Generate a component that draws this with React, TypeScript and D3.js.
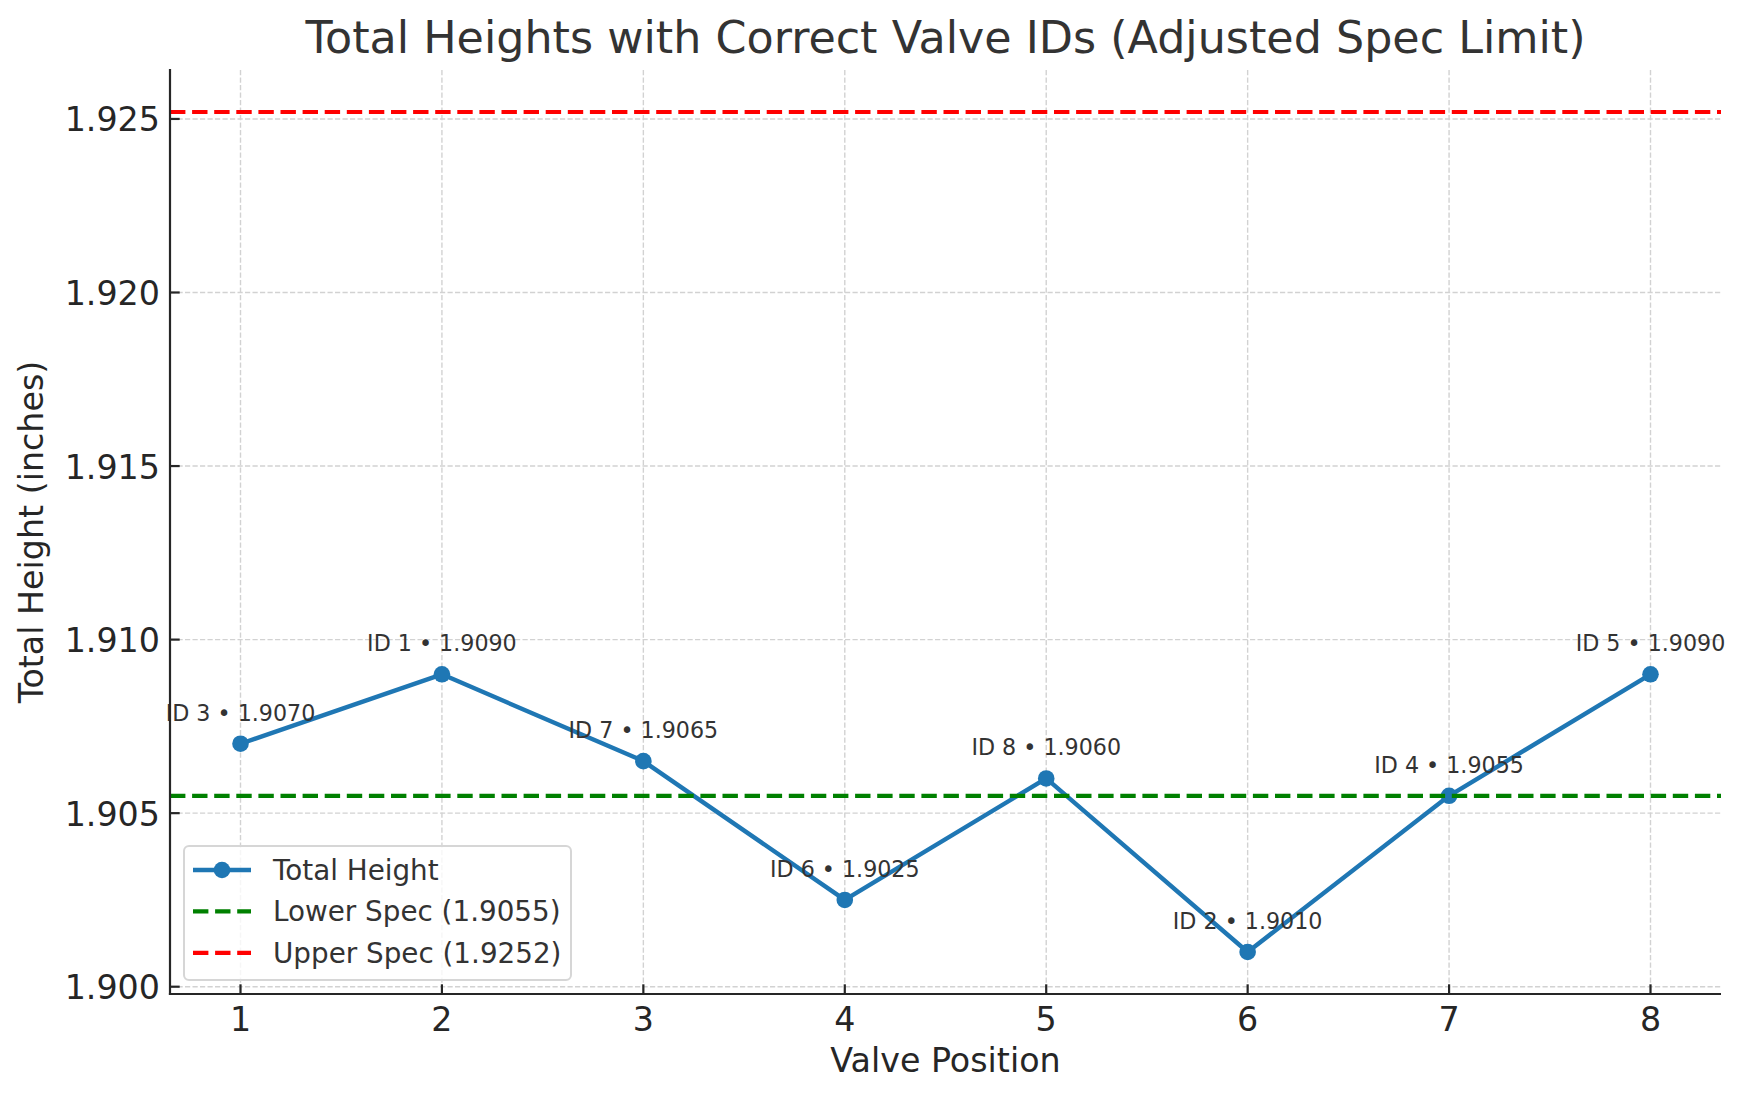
import * as d3 from 'd3';

// valve readings, in position order
const positions = [1, 2, 3, 4, 5, 6, 7, 8];
const valveIds = [3, 1, 7, 6, 8, 2, 4, 5];
const heights = [1.907, 1.909, 1.9065, 1.9025, 1.906, 1.901, 1.9055, 1.909];

const lowerSpec = 1.9055;
const upperSpec = 1.9252;

const yTicks = [1.9, 1.905, 1.91, 1.915, 1.92, 1.925];

const W = 1744;
const H = 1101;
const LEFT = 170;
const RIGHT = 1721;
const TOP = 70;
const BOTTOM = 994;

const FONT = '"DejaVu Sans", sans-serif';
const BLUE = '#1f77b4';

// 5% padding on each side, like matplotlib autoscale
function padded(lo: number, hi: number): [number, number] {
  const pad = (hi - lo) * 0.05;
  return [lo - pad, hi + pad];
}

export default function App() {
  const xDomain = padded(d3.min(positions)!, d3.max(positions)!);
  const yLo = Math.min(d3.min(heights)!, lowerSpec);
  const yHi = Math.max(d3.max(heights)!, upperSpec);
  const yDomain = padded(yLo, yHi);

  const x = d3.scaleLinear().domain(xDomain).range([LEFT, RIGHT]);
  const y = d3.scaleLinear().domain(yDomain).range([BOTTOM, TOP]);

  const line = d3
    .line<number>()
    .x((_, i) => x(positions[i]))
    .y((d) => y(d));

  const legendX = 184;
  const legendY = 846;
  const rows = [
    { label: 'Total Height', color: BLUE, dashed: false },
    { label: `Lower Spec (${lowerSpec.toFixed(4)})`, color: 'green', dashed: true },
    { label: `Upper Spec (${upperSpec.toFixed(4)})`, color: 'red', dashed: true },
  ];

  return (
    <svg
      width={W}
      height={H}
      style={{ position: 'absolute', left: 0, top: 0, background: '#fff' }}
      fontFamily={FONT}
    >
      <rect width={W} height={H} fill="#fff" />

      {/* grid */}
      <g stroke="#d2d2d2" strokeWidth={1.4} strokeDasharray="5.2,2.3">
        {positions.map((p) => (
          <line key={'gx' + p} x1={x(p)} x2={x(p)} y1={TOP} y2={BOTTOM} />
        ))}
        {yTicks.map((t) => (
          <line key={'gy' + t} x1={LEFT} x2={RIGHT} y1={y(t)} y2={y(t)} />
        ))}
      </g>

      {/* series */}
      <path d={line(heights)!} fill="none" stroke={BLUE} strokeWidth={4.4} strokeLinejoin="round" />
      {heights.map((h, i) => (
        <circle key={'m' + i} cx={x(positions[i])} cy={y(h)} r={8.3} fill={BLUE} />
      ))}

      {/* spec limits */}
      <line x1={LEFT} x2={RIGHT} y1={y(lowerSpec)} y2={y(lowerSpec)} stroke="green" strokeWidth={4.2} strokeDasharray="15.4,6.7" />
      <line x1={LEFT} x2={RIGHT} y1={y(upperSpec)} y2={y(upperSpec)} stroke="red" strokeWidth={4.2} strokeDasharray="15.4,6.7" />

      {/* point labels */}
      {heights.map((h, i) => (
        <text
          key={'a' + i}
          x={x(positions[i])}
          y={y(h) - 23}
          textAnchor="middle"
          fontSize={22.2}
          fill="#333"
        >
          {`ID ${valveIds[i]} • ${h.toFixed(4)}`}
        </text>
      ))}

      {/* axes */}
      <g stroke="#262626" strokeWidth={2.2}>
        <line x1={LEFT} x2={LEFT} y1={TOP - 1} y2={BOTTOM + 1.1} />
        <line x1={LEFT - 1.1} x2={RIGHT} y1={BOTTOM} y2={BOTTOM} />
        {positions.map((p) => (
          <line key={'tx' + p} x1={x(p)} x2={x(p)} y1={BOTTOM} y2={BOTTOM - 9.7} />
        ))}
        {yTicks.map((t) => (
          <line key={'ty' + t} x1={LEFT} x2={LEFT + 9.7} y1={y(t)} y2={y(t)} />
        ))}
      </g>
      <g fontSize={33.3} fill="#262626">
        {positions.map((p) => (
          <text key={'lx' + p} x={x(p)} y={1031} textAnchor="middle">
            {p}
          </text>
        ))}
        {yTicks.map((t) => (
          <text key={'ly' + t} x={160} y={y(t) + 12.5} textAnchor="end">
            {d3.format('.3f')(t)}
          </text>
        ))}
      </g>

      <text x={(LEFT + RIGHT) / 2} y={1072} textAnchor="middle" fontSize={33.3} fill="#262626">
        Valve Position
      </text>
      <text
        transform={`translate(43,${(TOP + BOTTOM) / 2}) rotate(-90)`}
        textAnchor="middle"
        fontSize={33.3}
        fill="#262626"
      >
        Total Height (inches)
      </text>
      <text x={(LEFT + RIGHT) / 2} y={53} textAnchor="middle" fontSize={44.4} fill="#333">
        Total Heights with Correct Valve IDs (Adjusted Spec Limit)
      </text>

      {/* legend */}
      <g>
        <rect
          x={legendX}
          y={legendY}
          width={387}
          height={134}
          rx={5}
          fill="#fff"
          fillOpacity={0.8}
          stroke="#d6d6d6"
          strokeWidth={2}
        />
        {rows.map((r, i) => {
          const cy = legendY + 24 + i * 41.4;
          return (
            <g key={'lg' + i}>
              <line
                x1={legendX + 9}
                x2={legendX + 67}
                y1={cy}
                y2={cy}
                stroke={r.color}
                strokeWidth={r.dashed ? 4.2 : 4.4}
                strokeDasharray={r.dashed ? '15.4,6.7' : undefined}
              />
              {!r.dashed && <circle cx={legendX + 38} cy={cy} r={8.3} fill={r.color} />}
              <text x={legendX + 89} y={cy + 10} fontSize={27.8} fill="#333">
                {r.label}
              </text>
            </g>
          );
        })}
      </g>
    </svg>
  );
}
